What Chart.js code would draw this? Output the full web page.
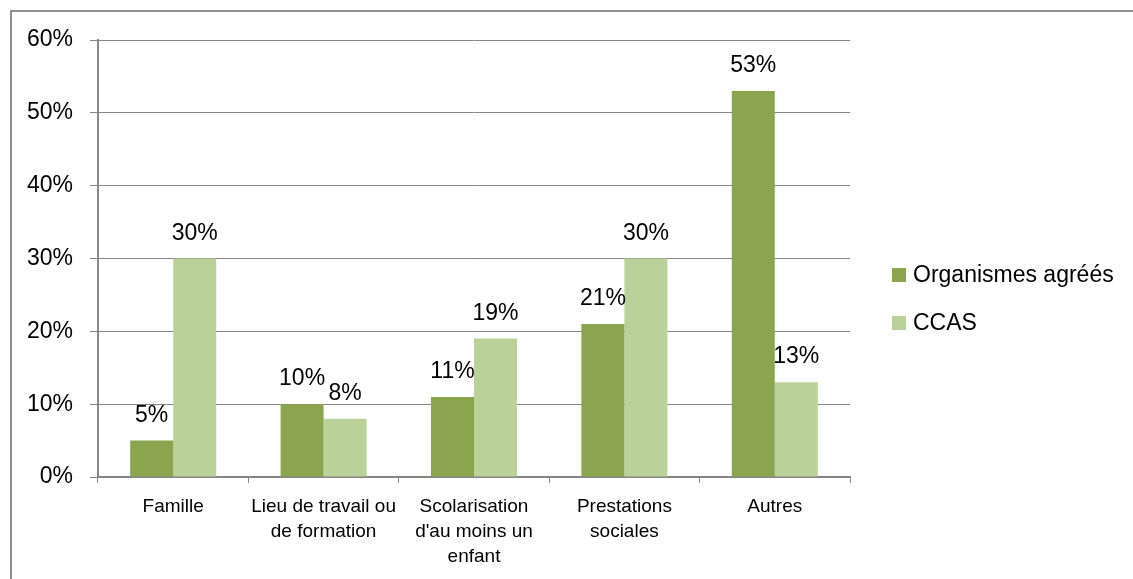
<!DOCTYPE html>
<html>
<head>
<meta charset="utf-8">
<script src="https://cdn.jsdelivr.net/npm/chart.js@4.4.1/dist/chart.umd.min.js"></script>
<style>
  body { margin: 0; background: #fff; }
  #frame {
    position: absolute; left: 10px; top: 10px; right: 0; bottom: 0;
    border-left: 2px solid #8f8f8f; border-top: 2px solid #8f8f8f;
  }
  #wrap { position: absolute; left: 0; top: 0; width: 1133px; height: 579px; }
</style>
</head>
<body>
<div id="frame"></div>
<div id="wrap"><canvas id="myChart" width="1133" height="579"></canvas></div>
<script>
const categories = [
    'Famille',
    ['Lieu de travail ou', 'de formation'],
    ['Scolarisation', "d'au moins un", 'enfant'],
    ['Prestations', 'sociales'],
    'Autres'
];
const organismes = [5, 10, 11, 21, 53];
const ccas = [30, 8, 19, 30, 13];
const seriesNames = ['Organismes agréés', 'CCAS'];
const seriesColors = ['#8ba54f', '#bbd19a'];

const FONT = "'Liberation Sans', Arial, sans-serif";
Chart.defaults.font.family = FONT;
Chart.defaults.color = '#000';

// value labels above each bar
const valueLabels = {
    id: 'valueLabels',
    afterDatasetsDraw(chart) {
        const c = chart.ctx;
        c.save();
        c.font = '23px ' + FONT;
        c.fillStyle = '#000';
        c.textAlign = 'center';
        c.textBaseline = 'alphabetic';
        chart.data.datasets.forEach((ds, i) => {
            chart.getDatasetMeta(i).data.forEach((bar, j) => {
                c.fillText(ds.data[j] + '%', bar.x, bar.y - 19);
            });
        });
        c.restore();
    }
};

// legend on the right, drawn by hand
const sideLegend = {
    id: 'sideLegend',
    afterDraw(chart) {
        const c = chart.ctx;
        c.save();
        c.font = '23px ' + FONT;
        c.textBaseline = 'alphabetic';
        chart.data.datasets.forEach((ds, i) => {
            const y = 282 + i * 48;
            c.fillStyle = ds.backgroundColor;
            c.fillRect(892, y - 14, 14, 14);
            c.fillStyle = '#000';
            c.fillText(ds.label, 913, y);
        });
        c.restore();
    }
};

const ctx = document.getElementById('myChart');
new Chart(ctx, {
    type: 'bar',
    data: {
        labels: categories,
        datasets: [
            { label: seriesNames[0], data: organismes, backgroundColor: seriesColors[0] },
            { label: seriesNames[1], data: ccas, backgroundColor: seriesColors[1] }
        ]
    },
    options: {
        responsive: false,
        animation: false,
        categoryPercentage: 0.572,
        barPercentage: 1,
        layout: { padding: { left: 0, top: 40, right: 283, bottom: 0 } },
        plugins: {
            legend: { display: false },
            tooltip: { enabled: false }
        },
        scales: {
            x: {
                afterFit(scale) { scale.height = 102; },
                grid: {
                    offset: true,
                    drawOnChartArea: false,
                    drawTicks: true,
                    tickLength: 6,
                    color: '#868686'
                },
                border: { display: true, color: '#868686', width: 2 },
                ticks: {
                    font: { size: 19, lineHeight: '25px' },
                    color: '#000',
                    padding: 11,
                    maxRotation: 0,
                    autoSkip: false
                }
            },
            y: {
                min: 0,
                max: 60,
                afterFit(scale) { scale.width = 98; },
                grid: {
                    color: '#868686',
                    tickLength: 8
                },
                border: { display: true, color: '#868686', width: 2 },
                ticks: {
                    stepSize: 10,
                    font: { size: 23 },
                    color: '#000',
                    padding: 17,
                    callback: v => v + '%'
                }
            }
        }
    },
    plugins: [valueLabels, sideLegend]
});
</script>
</body>
</html>
